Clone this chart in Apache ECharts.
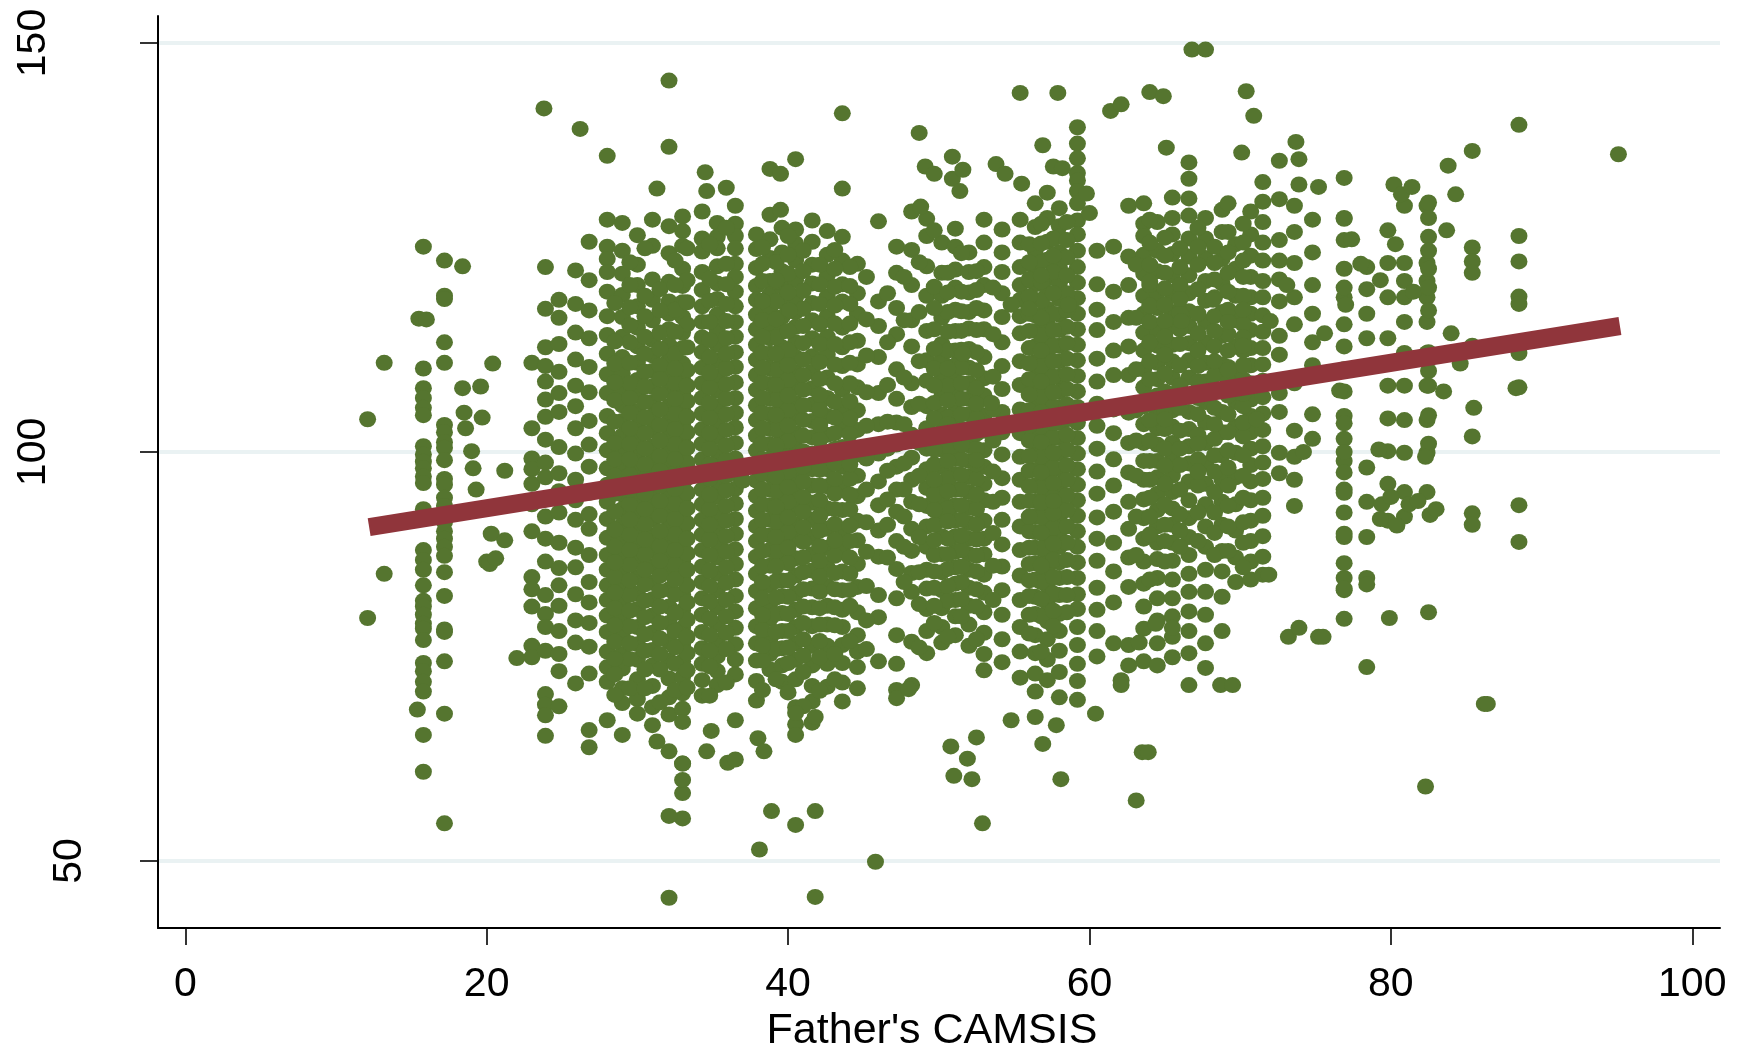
<!DOCTYPE html>
<html><head><meta charset="utf-8">
<style>html,body{margin:0;padding:0;background:#fff}#c{width:1746px;height:1047px}</style>
<script src="https://cdn.jsdelivr.net/npm/echarts@6/dist/echarts.min.js"></script>
</head><body><div id="c"></div>
<script>
const xTickLabels=[0,20,40,60,80,100];
const yTicksLow=[50];
const yTicksHigh=[100,150];
const xTitle="Father's CAMSIS";
const fitX=[12.2,95.2];
const fitY=[90.8,115.4];
const looseX=[12.1,12.1,13.2,13.2,15.4,15.5,16.0,18.4,18.4,18.5,18.6,19.0,19.1,19.3,19.6,19.7,20.0,20.2,20.3,20.4,20.6,21.2,21.2,22.0,23.8,26.2,31.3,32.1,32.1,33.0,33.0,34.5,34.6,35.9,38.8,39.5,39.5,40.5,43.6,43.6,48.7,48.8,49.1,49.7,50.9,50.9,51.4,51.6,53.8,54.4,55.4,55.5,56.9,57.9,57.6,58.2,61.4,62.1,64.0,64.9,65.1,66.8,67.7,70.4,70.9,70.1,73.7,73.9,73.9,75.2,76.9,80.2,80.7,81.4,83.8,84.3,83.7,85.4,88.5,95.1,88.5,88.5,88.5,88.5,88.5,88.5,88.3,88.5,88.5,85.4,85.4,85.4,85.4,85.5,85.4,85.4,85.4,86.2,86.4,82.5,82.3,79.9,78.4,78.4,32.1,41.8,45.8,38.1,40.5,38.9,41.8,32.1,33.0,33.0,32.1,31.3,33.0,34.6,34.9,36.0,36.5,36.5,38.0,38.4,40.5,41.8,40.5,48.0,50.8,51.0,51.9,52.5,52.2,52.9,54.8,56.4,56.9,57.8,58.1,60.4,63.1,63.5,63.9,62.1,62.1,63.3,64.4,65.5,68.7,69.5,73.2,73.9,75.2,75.5,71.9,84.0,83.5,84.6,79.4,79.3,79.2,81.2,81.8,82.6,83.0,80.0,80.4];
const looseY=[104.0,79.7,110.9,85.1,68.5,116.3,116.2,122.7,107.8,104.8,102.9,100.1,98.0,95.4,108.0,104.2,86.6,86.3,90.0,110.8,87.0,89.2,97.7,74.8,142.0,139.5,132.2,145.4,137.3,55.2,58.3,134.2,131.9,132.3,134.6,134.0,129.6,135.8,141.4,132.2,139.0,130.0,134.9,134.0,136.1,133.4,131.9,134.5,135.2,134.0,143.9,132.8,137.5,143.9,134.9,134.7,141.7,142.5,144.0,143.5,137.2,149.2,149.2,144.1,141.1,136.6,137.9,135.8,132.7,132.4,133.5,132.7,131.5,132.4,135.0,131.5,127.1,136.8,140.0,136.4,126.4,123.3,119.0,118.1,112.1,107.9,107.8,93.5,89.0,125.0,123.3,121.9,113.0,105.4,101.9,92.5,91.1,69.2,69.2,80.4,59.1,79.7,73.7,83.8,45.5,45.6,49.9,51.4,54.4,56.1,56.1,55.5,59.9,61.9,63.4,64.6,61.9,63.4,65.9,62.0,62.4,67.2,65.0,63.4,65.4,67.6,68.1,71.0,64.0,60.4,62.5,65.1,60.0,54.6,67.2,67.6,64.3,66.6,60.0,68.0,57.4,63.3,63.3,72.1,71.5,76.7,79.0,78.5,71.5,71.5,77.4,78.5,77.4,77.4,85.0,114.5,107.4,110.8,93.6,91.8,100.3,93.6,94.0,92.3,93.0,94.5,91.0];
const colX=[15.8,17.2,23.0,23.9,24.8,25.9,26.8,28.0,29.0,30.0,31.0,32.1,33.0,34.3,35.3,36.5,37.9,38.8,39.6,40.5,41.6,42.6,43.6,44.6,46.0,47.2,48.2,49.2,50.2,51.1,52.0,53.0,54.2,55.4,56.4,57.2,58.0,59.2,60.5,61.6,62.6,63.6,64.5,65.5,66.6,67.7,68.8,69.7,70.7,71.5,72.6,73.6,74.8,76.9,78.4,79.8,80.9,82.4];
const c0=[125.1,110.2,107.8,106.6,105.4,104.5,100.7,99.7,98.8,98.0,97.0,96.2,93.0,88.0,86.8,85.6,83.7,81.8,81.1,80.1,79.0,78.4,77.0,74.2,73.2,71.9,70.7,65.4,60.9];
const c1=[123.4,119.1,118.7,113.4,110.9,103.3,102.4,101.2,100.5,99.0,96.7,96.0,94.4,93.4,91.4,90.3,89.4,88.4,87.3,85.3,82.4,78.3,78.0,74.4,68.0,54.6];
const c2=[110.9,102.9,99.2,97.9,96.1,93.6,90.3,84.7,83.2,81.1,76.3,74.9];
const c3=[122.6,117.5,112.8,110.5,108.6,106.4,104.3,101.5,98.7,96.9,94.2,92.1,89.4,86.6,82.5,80.2,78.6,75.7,70.4,69.1,67.8,65.3];
const c4=[118.6,116.4,113.2,109.8,107.2,104.9,100.6,97.4,95.2,92.6,88.9,85.8,83.7,81.2,78.1,75.3,73.2,68.9];
const c5=[122.2,118.1,114.6,111.3,108.1,105.6,102.9,99.8,96.6,94.1,91.7,88.3,85.9,82.6,79.4,76.7,71.7];
const c6=[125.7,121.0,117.3,113.9,110.4,107.3,103.8,100.9,98.2,95.0,92.4,90.6,87.4,84.1,81.6,79.1,76.2,72.9,66.0,63.9];
const c7=[136.2,128.4,125.1,123.6,122.0,119.6,116.6,114.3,112.0,109.5,107.2,104.4,102.3,100.2,98.0,96.0,93.9,91.8,89.5,87.4,85.6,83.7,81.9,80.0,78.0,75.6,73.7,71.9,67.2];
const c8=[128.0,124.6,121.8,119.2,116.5,114.1,111.6,109.6,107.4,105.7,103.8,102.0,100.2,98.4,96.5,94.8,93.0,91.1,89.2,87.3,85.2,83.4,81.4,79.7,77.4,75.3,73.5,71.1,69.3,65.4];
const c9=[126.5,122.9,120.4,117.8,115.2,112.9,110.9,108.8,106.9,105.0,103.2,101.4,99.6,97.8,95.9,94.1,92.3,90.5,88.7,86.6,84.7,82.7,80.8,78.6,76.5,74.6,72.2,69.8,68.0];
const c10=[128.4,125.2,121.1,118.6,116.1,113.7,111.8,109.9,108.0,106.1,104.4,102.6,100.7,98.9,97.1,95.3,93.5,91.7,89.8,87.9,86.0,84.0,82.0,80.0,77.9,75.8,73.9,71.4,68.8,66.6];
const c11=[127.6,124.3,120.8,118.4,116.9,115.0,113.1,111.3,109.4,107.5,105.6,103.8,102.0,100.1,98.3,96.5,94.7,92.8,90.9,89.0,87.2,85.3,83.2,81.1,79.1,76.8,74.5,72.3,70.0,67.9];
const c12=[128.8,127.0,125.2,122.4,120.3,118.3,116.5,114.6,112.7,110.8,108.9,107.1,105.2,103.3,101.5,99.7,97.8,95.9,94.1,92.2,90.4,88.6,86.6,84.6,82.6,80.6,78.5,76.4,74.4,72.5,70.5,68.6,67.0];
const c13=[129.4,126.1,124.5,122.0,119.8,117.8,115.9,114.0,112.2,110.3,108.4,106.6,104.7,102.8,101.0,99.1,97.3,95.4,93.6,91.7,89.9,88.0,86.0,84.1,82.1,80.1,78.0,76.0,74.1,72.1,70.2];
const c14=[128.0,126.3,124.9,122.7,120.6,118.7,116.8,114.9,113.1,111.2,109.3,107.5,105.6,103.7,101.9,100.0,98.2,96.3,94.5,92.6,90.8,88.9,87.1,85.1,83.1,81.0,78.9,76.9,75.0,73.2,71.5];
const c15=[130.1,127.9,126.4,124.9,123.0,121.4,119.6,117.8,115.9,114.1,112.2,110.4,108.5,106.6,104.8,103.0,101.1,99.2,97.4,95.5,93.7,91.8,90.0,88.1,86.3,84.4,82.4,80.5,78.5,76.5,74.6,72.8];
const c16=[126.6,124.8,122.5,120.3,118.6,116.8,115.0,113.1,111.3,109.4,107.6,105.7,103.9,102.0,100.2,98.3,96.5,94.6,92.8,90.9,89.1,87.2,85.1,83.0,80.9,78.7,76.6,74.5,72.0,69.6];
const c17=[129.0,126.0,123.7,120.9,119.3,117.6,115.7,113.9,112.0,110.2,108.3,106.5,104.6,102.8,100.9,99.1,97.2,95.4,93.5,91.7,89.8,88.0,86.1,83.7,81.6,79.6,77.2,75.3,73.4];
const c18=[127.4,124.4,122.1,120.2,118.4,116.5,114.7,112.8,111.0,109.1,107.3,105.4,103.6,101.7,99.9,98.0,96.2,94.3,92.5,90.6,88.8,86.9,84.3,82.4,80.3,78.1,76.0,73.9,71.9];
const c19=[127.2,125.5,123.4,121.0,118.9,117.1,115.3,113.4,111.6,109.7,107.9,106.0,104.2,102.3,100.5,98.6,96.8,94.9,93.1,91.2,89.4,87.0,84.9,82.7,80.7,78.6,76.6,74.6,72.2,68.8,66.7];
const c20=[128.3,125.7,122.9,120.6,118.2,116.1,113.9,111.7,109.8,107.8,105.8,103.8,101.8,99.8,97.9,95.9,93.8,91.7,89.6,87.5,85.5,83.3,81.0,78.7,76.3,73.9,71.4,69.5,66.9];
const c21=[127.0,124.1,121.6,119.0,116.6,114.1,111.9,109.1,106.6,104.4,102.1,100.0,97.9,95.8,93.1,90.6,88.3,85.9,83.6,81.2,78.9,76.3,74.1,71.3];
const c22=[126.3,123.4,120.5,118.4,115.2,112.8,110.5,107.6,105.2,102.9,100.6,98.2,95.4,92.9,90.4,87.8,85.4,83.1,80.7,78.6,76.4,74.2,71.8,69.5];
const c23=[123.0,119.4,116.9,113.6,110.7,107.9,105.1,102.7,99.7,97.1,94.6,91.6,89.2,86.3,83.5,80.4,77.6,75.6,73.7,71.1];
const c24=[128.2,118.4,115.4,111.6,107.2,103.4,99.8,96.4,93.5,90.4,87.2,82.5,79.8,74.4];
const c25=[125.1,121.9,117.6,114.4,110.1,106.5,103.6,100.9,98.2,95.4,92.7,89.1,85.7,82.1,77.6,74.1,70.9,69.9];
const c26=[129.4,124.7,120.4,116.1,112.9,108.4,105.5,102.1,99.3,96.6,93.9,90.6,87.9,85.2,82.9,76.8,71.5];
const c27=[128.5,126.4,122.7,119.1,114.8,111.2,108.7,105.6,102.9,100.4,97.9,95.6,93.4,90.9,88.4,85.6,83.3,80.8,78.1,75.4];
const c28=[125.6,121.9,119.1,116.4,113.2,111.2,108.9,106.8,104.6,102.5,100.3,98.2,96.1,94.0,91.9,89.7,87.5,85.3,83.1,80.9,78.6,76.7];
const c29=[127.3,125.1,122.3,120.1,117.4,114.8,112.4,110.6,108.7,106.8,104.9,103.0,101.1,99.2,97.3,95.4,93.5,91.6,89.7,87.8,85.9,83.9,81.9,79.9,77.6];
const c30=[124.4,122.0,119.5,117.1,115.1,112.6,110.3,108.4,106.5,104.6,102.7,100.8,98.9,97.0,95.1,93.2,91.3,89.4,87.5,85.6,83.4,81.2,78.9,76.3];
const c31=[128.4,125.6,122.6,120.4,117.3,115.0,111.6,109.0,106.9,104.5,102.6,100.2,98.2,96.1,94.1,91.6,89.4,87.5,85.0,82.8,80.4,77.9,75.3,73.3];
const c32=[127.2,124.4,122.0,119.4,116.5,113.4,110.5,107.7,104.9,102.4,99.7,96.8,94.4,91.7,88.7,86.0,83.1,80.1,77.1,74.3];
const c33=[128.4,125.6,122.6,120.4,118.6,116.6,114.5,111.1,108.2,105.2,102.3,99.4,96.6,93.9,90.9,88.0,84.9,81.9,78.6,75.6,72.4];
const c34=[130.4,127.5,124.6,122.3,120.5,118.6,116.7,114.8,112.9,111.0,109.1,107.3,105.4,103.5,101.6,99.7,97.8,95.9,94.0,92.1,90.2,88.3,86.4,84.4,82.3,80.2,77.6,75.4,72.9,70.7];
const c35=[131.7,128.6,125.7,123.5,121.2,119.4,117.5,115.6,113.8,111.9,110.0,108.1,106.3,104.4,102.5,100.6,98.7,96.8,94.9,93.0,91.2,89.3,87.4,85.5,83.6,81.5,79.3,77.1,74.6,72.1];
const c36=[129.8,127.6,126.3,124.4,122.6,120.6,118.7,116.8,114.9,113.0,111.1,109.2,107.4,105.5,103.6,101.7,99.8,97.9,96.0,94.1,92.2,90.3,88.4,86.5,84.6,82.5,80.2,78.1,75.7,73.1,70.0];
const c37=[139.7,137.7,135.9,134.1,133.2,131.9,130.4,128.3,126.6,124.6,122.6,120.7,118.8,116.9,115.0,113.1,111.2,109.3,107.4,105.5,103.6,101.7,99.8,97.9,96.0,94.1,92.2,90.3,88.4,86.5,84.6,82.6,80.8,78.6,76.4,74.1,72.0,69.7];
const c38=[124.6,120.5,117.4,114.9,111.4,108.6,105.9,103.2,100.4,97.6,94.9,92.0,89.4,86.7,83.4,80.7,78.1,75.0];
const c39=[125.1,119.6,115.9,112.4,109.4,105.2,102.3,99.1,95.9,92.7,88.9,85.4,81.6,76.6];
const c40=[130.1,123.9,120.4,116.4,112.9,109.4,104.8,101.1,97.5,93.9,90.6,87.1,83.5,76.4,73.9];
const c41=[130.4,127.9,126.4,124.1,121.8,119.1,116.9,114.6,112.4,110.1,107.9,105.6,103.4,101.1,98.9,96.6,94.2,91.9,89.4,86.6,83.9,81.1,78.4,74.4];
const c42=[128.1,124.6,122.1,119.4,117.6,114.9,113.0,110.9,108.9,106.9,104.9,102.9,100.9,98.9,96.9,94.9,92.9,90.9,88.9,86.9,84.6,82.1,79.4,76.6,73.9];
const c43=[131.1,128.6,126.6,124.2,121.6,119.4,117.1,115.4,113.1,111.1,109.1,107.1,105.1,103.1,101.1,99.1,97.1,95.1,93.1,91.1,88.9,86.7,84.4,82.1,79.9,77.4,74.9];
const c44=[135.4,133.4,131.0,128.9,126.1,123.9,121.6,119.4,117.2,115.4,113.3,111.2,109.1,107.0,104.9,102.8,100.7,98.6,96.4,94.1,91.9,89.6,87.4,85.1,82.9,80.5,78.1,75.4,71.5];
const c45=[128.6,126.1,123.7,120.9,118.5,115.9,113.4,110.9,108.6,106.1,103.6,101.1,98.6,96.1,93.6,90.9,88.4,85.6,82.9,80.1,76.6,73.6];
const c46=[129.6,126.9,123.6,120.6,117.1,114.2,110.7,107.6,104.9,102.4,99.6,96.6,93.9,91.1,87.9,85.4,82.3,78.1];
const c47=[125.4,122.4,119.1,116.1,112.9,109.4,106.1,103.1,99.9,96.9,93.6,90.4,87.1,84.1];
const c48=[129.4,126.6,124.0,121.4,118.9,116.9,114.9,112.7,110.6,108.4,106.4,104.4,102.4,100.4,98.4,96.4,94.1,91.6,89.1,86.6,84.4];
const c49=[133.0,130.6,128.1,125.6,123.4,120.9,118.9,116.7,114.7,112.7,110.7,108.7,106.7,104.7,102.7,100.7,98.7,96.7,94.4,92.2,89.7,87.2,85.0];
const c50=[135.6,130.9,125.9,123.4,121.1,118.4,114.2,111.9,107.2,104.9,99.9,97.4];
const c51=[130.1,126.9,123.1,118.9,115.6,108.4,102.6,99.4,96.6,93.4];
const c52=[128.4,124.4,120.4,116.9,113.4,110.6,104.6,101.6];
const c53=[128.6,125.9,122.4,118.9,115.6,112.9,110.1,107.4,104.4,101.6,98.9,95.4,92.6,89.6,86.4,83.1,79.6];
const c54=[122.6,119.9,116.9,113.9,98.1,93.9,89.6,84.6];
const c55=[127.1,123.1,118.9,113.9,108.1,104.1,100.1,96.1,91.6];
const c56=[130.1,123.1,120.9,118.9,115.9,112.1,108.1,103.9,99.9,95.1,92.1];
const c57=[130.1,123.1,120.9,118.9,115.9,112.1,108.1,103.9,99.9,95.1];
const extraX=[38.3,39.2,40.1,37.0,50.6,51.6,52.5,53.5,54.8,56.0,56.8,57.6,58.6,59.8,60.0,64.0,65.0,66.1,67.2,68.2,69.2,70.2,71.1,72.0,73.1,74.2,75.6,77.4,77.0,76.6,76.9,76.9,76.9,76.9,76.9,76.9,76.9,76.9,76.9,78.0,79.3,80.3,81.5,82.5,82.5,82.5,82.5,82.5,82.5,82.5,82.5,82.5,82.5,82.5,82.5,82.3];
const extraY=[118.4,121.0,117.3,96.5,103.4,112.0,99.0,106.0,118.0,117.5,121.6,94.0,118.0,131.6,129.2,120.8,104.0,116.0,101.0,118.6,110.0,113.0,104.0,116.0,120.4,100.0,114.5,126.0,118.0,107.5,103.5,100.0,97.5,95.0,90.0,84.6,83.3,120.1,128.5,123.0,121.0,125.4,119.6,130.5,128.6,126.3,124.6,122.4,120.1,117.3,112.2,109.9,108.1,104.5,101.0,99.4];
const colY=[c0,c1,c2,c3,c4,c5,c6,c7,c8,c9,c10,c11,c12,c13,c14,c15,c16,c17,c18,c19,c20,c21,c22,c23,c24,c25,c26,c27,c28,c29,c30,c31,c32,c33,c34,c35,c36,c37,c38,c39,c40,c41,c42,c43,c44,c45,c46,c47,c48,c49,c50,c51,c52,c53,c54,c55,c56,c57];
const fillX=[28.5,29.5,30.5,31.5,32.5,33.3,34.8,35.9,38.3,39.2,40.0,41.0,42.1,43.1,44.1,45.2,46.6,47.7,48.7,49.7,50.6,51.5,52.5,53.6,56.0,56.8,57.6,58.5,63.1,64.0,65.0,66.0,67.2,68.3,69.2,70.2];
const f0=[118.2,110.8,106.3,101.1,97.1,92.7,88.4,84.7,80.9,76.8,72.8,70.3];
const f1=[123.2,117.7,113.4,108.4,104.8,101.0,97.2,93.6,89.9,86.2,82.5,78.7,74.7,71.1];
const f2=[124.9,119.1,114.1,109.8,106.1,102.3,98.5,94.9,91.2,87.5,83.8,79.8,75.7,71.1];
const f3=[119.9,114.6,110.6,107.1,103.3,99.5,95.9,92.2,88.5,84.9,81.1,77.2,73.4,69.4];
const f4=[123.4,117.4,112.0,108.4,104.7,100.9,97.4,93.7,89.9,86.2,82.6,78.1,74.1,70.9];
const f5=[124.9,121.0,115.6,110.0,106.2,102.4,98.7,95.0,91.3,87.6,83.7,79.5,75.4,71.2];
const f6=[125.4,121.2,115.9,111.6,107.9,104.2,100.4,96.7,93.0,89.3,85.5,81.7,77.6,73.8,70.2];
const f7=[127.4,123.0,118.1,113.9,110.2,106.5,102.7,99.0,95.3,91.6,87.8,84.0,79.9,75.9,71.8];
const f8=[125.0,120.9,116.1,112.1,108.5,104.8,101.0,97.3,93.6,89.9,86.0,82.1,78.2,74.5,70.9];
const f9=[123.2,118.4,114.0,110.0,106.4,102.7,98.9,95.2,91.5,87.8,84.2,80.2,75.9,72.2];
const f10=[126.4,121.8,117.2,112.4,108.8,105.1,101.3,97.6,93.9,90.2,86.4,82.3,78.1,74.2,70.6];
const f11=[124.6,119.7,115.4,111.3,107.6,103.9,100.1,96.4,92.7,89.0,85.3,81.1,77.1,73.1,68.9];
const f12=[122.9,118.1,113.2,108.9,105.2,101.5,97.8,94.1,90.4,86.7,82.9,78.9,74.9,70.8];
const f13=[124.7,120.2,115.7,110.7,106.1,102.3,98.6,94.9,91.2,87.3,83.2,78.8,75.3,72.2];
const f14=[122.6,118.1,113.4,108.4,104.1,100.4,96.7,93.0,89.1,85.1,81.2,76.9];
const f15=[121.4,116.2,111.8,107.3,103.2,99.2,95.4,91.4,87.8,83.6,79.4,75.9];
const f16=[119.4,113.4,108.2,103.7,100.4,97.7,94.2,91.1,87.1];
const f17=[121.4,116.1,109.1,103.4,98.6,95.4,92.1,88.4,84.1];
const f18=[123.2,117.1,111.1,105.9,101.1,97.1,93.6,89.6,85.3,81.4,76.1];
const f19=[127.1,120.2,115.0,110.2,106.0,102.2,98.5,94.8,91.1,87.4,83.4,79.1];
const f20=[121.9,117.1,112.4,108.1,104.2,100.5,96.8,93.1,89.4,85.7,81.8,77.4];
const f21=[124.3,119.6,114.8,110.3,106.5,102.8,99.1,95.4,91.7,88.0,84.1,79.9];
const f22=[122.1,117.6,112.2,107.8,104.1,100.4,96.7,93.0,89.3,85.4,81.1,77.1];
const f23=[120.1,114.4,109.2,105.2,101.4,97.6,93.9,90.1,86.1,81.9];
const f24=[125.4,121.1,116.9,112.7,108.9,105.1,101.4,97.7,94.0,90.3,86.3,82.4,77.8];
const f25=[127.9,123.2,118.5,114.3,110.5,106.8,103.1,99.4,95.7,92.0,88.2,84.1,79.9,75.6];
const f26=[126.1,122.0,116.9,113.0,109.2,105.5,101.8,98.1,94.4,90.7,86.8,82.7,78.7];
const f27=[128.1,123.8,119.4,115.3,111.4,107.7,104.0,100.3,96.6,92.9,88.9,84.7,80.4];
const f28=[122.9,116.4,110.1,105.1,101.4,97.1,92.1,87.4];
const f29=[128.4,122.9,117.9,113.4,108.9,103.9,98.9,94.4,89.9,84.4];
const f30=[126.2,121.9,118.0,114.1,109.6,105.1,100.4,96.1,91.1,86.6];
const f31=[124.9,120.4,117.0,113.2,108.1,102.6,98.4,92.4,88.4];
const f32=[127.4,122.9,116.9,112.4,108.6,104.6,99.1,95.9,89.1];
const f33=[125.1,121.1,116.6,112.9,109.4,105.4,101.6,97.6,92.6,87.4];
const f34=[130.4,126.9,121.9,117.4,114.4,110.4,106.9,102.4,98.1,93.4,87.9];
const f35=[127.9,123.4,119.1,115.6,112.4,108.9,105.6,101.9,97.1,91.4,85.9];
const fillY=[f0,f1,f2,f3,f4,f5,f6,f7,f8,f9,f10,f11,f12,f13,f14,f15,f16,f17,f18,f19,f20,f21,f22,f23,f24,f25,f26,f27,f28,f29,f30,f31,f32,f33,f34,f35];
const coreX=[28.5,29.5,30.5,31.5,32.5,33.3,34.8,35.9,38.3,39.2,40.0,41.0,42.1,43.1,44.1,49.7,50.6,51.5,52.5,56.0,56.8,57.6,58.5,64.0,65.0,66.0,67.2,68.3,69.2,70.2];
const g0=[113.5,108.5,103.7,99.1,94.9,90.5,86.5,82.8,78.8,74.7];
const g1=[120.4,115.5,110.9,106.6,102.9,99.1,95.4,91.7,88.0,84.3,80.6,76.6];
const g2=[116.6,112.0,108.0,104.2,100.4,96.7,93.0,89.3,85.6,81.8,77.7,73.4];
const g3=[117.3,112.6,108.9,105.2,101.4,97.7,94.0,90.3,86.7,83.0,79.1,75.3];
const g4=[120.4,114.7,110.2,106.5,102.8,99.1,95.5,91.8,88.0,84.4,80.3,76.1];
const g5=[118.3,112.8,108.1,104.3,100.5,96.8,93.1,89.4,85.6,81.6,77.4,73.3];
const g6=[118.5,113.7,109.7,106.0,102.3,98.5,94.8,91.1,87.4,83.6,79.6,75.7];
const g7=[120.5,116.0,112.0,108.3,104.6,100.8,97.1,93.4,89.7,85.9,81.9,77.9];
const g8=[123.0,118.5,114.1,110.3,106.6,102.9,99.1,95.4,91.7,87.9,84.1,80.1,76.3];
const g9=[120.8,116.2,112.0,108.2,104.5,100.8,97.0,93.3,89.6,86.0,82.2,78.0];
const g10=[124.1,119.5,114.8,110.6,106.9,103.2,99.4,95.7,92.0,88.3,84.3,80.2,76.1];
const g11=[122.1,117.5,113.3,109.4,105.7,102.0,98.2,94.5,90.8,87.1,83.2,79.1,75.1];
const g12=[120.5,115.6,111.0,107.0,103.3,99.6,95.9,92.2,88.5,84.8,80.9,76.9];
const g13=[122.4,117.9,113.2,108.4,104.2,100.4,96.7,93.0,89.2,85.2,81.0];
const g14=[120.3,115.7,110.9,106.2,102.2,98.5,94.8,91.0,87.1,83.1];
const g15=[117.6,112.6,108.1,104.1,100.3,96.6,92.9,89.2,85.4,81.2];
const g16=[119.5,114.7,110.2,106.3,102.6,98.9,95.2,91.5,87.5,83.6];
const g17=[117.2,112.5,108.4,104.6,100.9,97.2,93.5,89.8,86.0,82.0];
const g18=[119.8,114.9,110.0,105.9,102.2,98.5,94.8,91.1,87.3,83.2];
const g19=[123.2,119.0,114.8,110.8,107.0,103.2,99.5,95.8,92.1,88.3,84.3,80.1];
const g20=[125.5,120.8,116.4,112.4,108.6,104.9,101.2,97.5,93.8,90.1,86.1,82.0];
const g21=[124.0,119.4,114.9,111.1,107.3,103.6,99.9,96.2,92.5,88.8,84.7,80.6];
const g22=[125.9,121.6,117.3,113.3,109.5,105.8,102.1,98.4,94.7,90.9,86.8,82.5];
const g23=[125.6,120.4,115.9,111.1,106.6,101.4,96.6,92.1];
const g24=[124.0,120.0,116.0,111.9,107.4,102.8,98.3,93.6,89.1];
const g25=[122.6,118.7,115.0,110.6,105.4,100.4,95.4,90.4];
const g26=[125.1,119.9,114.5,110.5,106.6,102.1,97.6,92.6];
const g27=[123.1,118.9,114.8,111.1,107.4,103.4,99.6,95.1,90.1];
const g28=[124.4,119.6,115.9,112.4,108.6,104.6,100.2,95.9,90.9];
const g29=[125.6,121.4,117.4,114.0,110.6,107.1,103.6,99.6,94.4,88.9];
const coreY=[g0,g1,g2,g3,g4,g5,g6,g7,g8,g9,g10,g11,g12,g13,g14,g15,g16,g17,g18,g19,g20,g21,g22,g23,g24,g25,g26,g27,g28,g29];
const pts=[];
colY.forEach((ys,i)=>ys.forEach(y=>pts.push([colX[i],y])));
fillY.forEach((ys,i)=>ys.forEach(y=>pts.push([fillX[i],y])));
coreY.forEach((ys,i)=>ys.forEach(y=>pts.push([coreX[i],y])));
looseX.forEach((x,i)=>pts.push([x,looseY[i]]));
extraX.forEach((x,i)=>pts.push([x,extraY[i]]));
const chart=echarts.init(document.getElementById('c'),null,{renderer:'canvas'});
const FONT='"Liberation Sans",Arial,sans-serif';
const Y_MIN=41.8,Y_MAX=153.3;
function yA(values,margin,show){return {type:'value',position:'left',min:Y_MIN,max:Y_MAX,
 axisLine:{show:show,onZero:false,lineStyle:{color:'#000',width:2}},
 axisTick:{show:show,length:18,lineStyle:{color:'#000',width:1.6},customValues:[50,100,150]},
 splitLine:{show:show,lineStyle:{color:'#eaf2f3',width:4}},
 axisLabel:{show:true,rotate:90,margin:margin,color:'#000',fontFamily:FONT,fontSize:41,customValues:values,hideOverlap:false,showMinLabel:true,showMaxLabel:true}};}
chart.setOption({
 animation:false,backgroundColor:'#fff',
 grid:{left:158,right:26,top:16,bottom:119,outerBoundsMode:'none'},
 xAxis:{type:'value',min:-1.81,max:101.84,
  name:xTitle,nameLocation:'middle',nameGap:60,
  nameTextStyle:{color:'#000',fontFamily:FONT,fontSize:43,padding:[0,14,0,0]},
  axisLine:{onZero:false,lineStyle:{color:'#000',width:2}},
  axisTick:{length:17,lineStyle:{color:'#000',width:1.6},customValues:xTickLabels},
  splitLine:{show:false},
  axisLabel:{margin:36,color:'#000',fontFamily:FONT,fontSize:41,customValues:xTickLabels}},
 yAxis:[yA(yTicksLow,68,true),yA(yTicksHigh,104,false)],
 series:[
  {type:'scatter',yAxisIndex:0,data:pts,symbol:'circle',symbolSize:[17,16],itemStyle:{color:'#55752f',opacity:1},large:false,z:2},
  {type:'line',yAxisIndex:0,data:fitX.map((x,i)=>[x,fitY[i]]),showSymbol:false,lineStyle:{color:'#90353b',width:18,cap:'butt'},z:3}
 ]
});
</script></body></html>
